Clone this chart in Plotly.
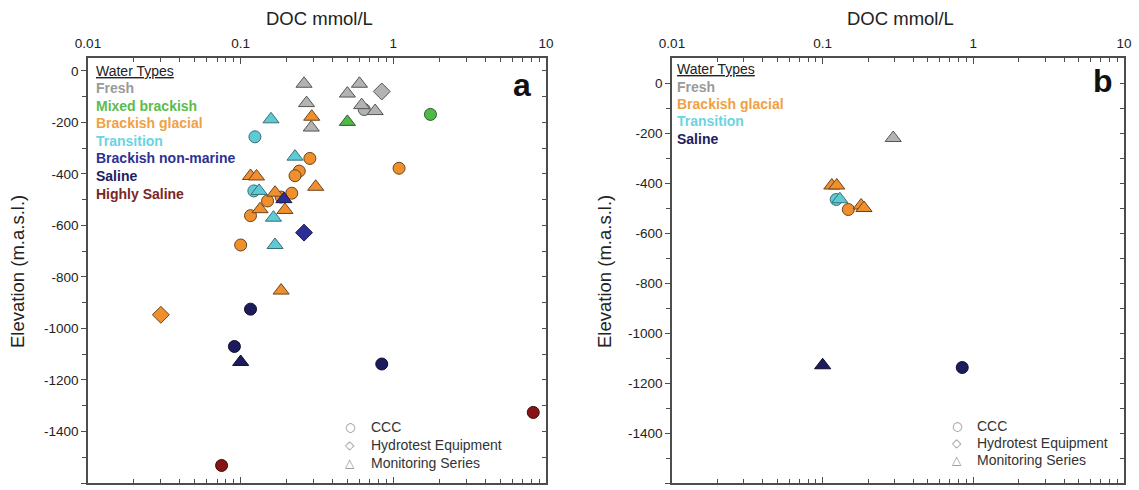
import plotly.graph_objects as go

# ---------------- data (DOC mmol/L, elevation m.a.s.l.) ----------------
# Panel a
a_fresh_ms_x = [0.26, 0.60, 0.50, 0.27, 0.62, 0.76, 0.29]
a_fresh_ms_y = [-50, -50, -88, -125, -133, -156, -220]
a_fresh_ccc_x = [0.645]
a_fresh_ccc_y = [-150]
a_fresh_hyd_x = [0.84]
a_fresh_hyd_y = [-80]

a_mixed_ms_x = [0.50]
a_mixed_ms_y = [-198]
a_mixed_ccc_x = [1.75]
a_mixed_ccc_y = [-169]

a_glacial_ccc_x = [0.284, 0.242, 0.227, 1.09, 0.216, 0.150, 0.116, 0.100, 0.184]
a_glacial_ccc_y = [-340, -389, -407, -378, -475, -505, -562, -676, -490]
a_glacial_ms_x = [0.292, 0.116, 0.127, 0.31, 0.168, 0.134, 0.195, 0.184]
a_glacial_ms_y = [-178, -408, -410, -450, -473, -537, -540, -853]
a_glacial_hyd_x = [0.030]
a_glacial_hyd_y = [-947]

a_trans_ccc_x = [0.124, 0.122]
a_trans_ccc_y = [-256, -466]
a_trans_ms_x = [0.158, 0.227, 0.132, 0.164, 0.168]
a_trans_ms_y = [-188, -333, -466, -570, -676]

a_nonmar_ms_x = [0.192]
a_nonmar_ms_y = [-498]
a_nonmar_hyd_x = [0.26]
a_nonmar_hyd_y = [-628]

a_saline_ccc_x = [0.116, 0.091, 0.84]
a_saline_ccc_y = [-925, -1070, -1138]
a_saline_ms_x = [0.100]
a_saline_ms_y = [-1130]

a_high_ccc_x = [0.075, 8.25]
a_high_ccc_y = [-1532, -1326]

# Panel b
b_fresh_ms_x = [0.294]
b_fresh_ms_y = [-220]
b_glacial_ms_x = [0.115, 0.124, 0.18, 0.188]
b_glacial_ms_y = [-410, -410, -490, -500]
b_glacial_ccc_x = [0.148]
b_glacial_ccc_y = [-506]
b_trans_ccc_x = [0.123]
b_trans_ccc_y = [-466]
b_trans_ms_x = [0.130]
b_trans_ms_y = [-465]
b_saline_ms_x = [0.100]
b_saline_ms_y = [-1129]
b_saline_ccc_x = [0.844]
b_saline_ccc_y = [-1138]

# axis ticks
x_tickvals = [0.01, 0.1, 1, 10]
x_ticktext = ["0.01", "0.1", "1", "10"]
y_tickvals = [0, -200, -400, -600, -800, -1000, -1200, -1400, -1600]
y_ticktext = ["0", "-200", "-400", "-600", "-800", "-1000", "-1200", "-1400", "-1600"]
y_minorvals = [-100, -300, -500, -700, -900, -1100, -1300, -1500]
y_allvals = list(range(0, -1601, -100))

water_types_a = ["Fresh", "Mixed brackish", "Brackish glacial", "Transition",
                 "Brackish non-marine", "Saline", "Highly Saline"]
water_types_b = ["Fresh", "Brackish glacial", "Transition", "Saline"]
source_types = ["CCC", "Hydrotest Equipment", "Monitoring Series"]
source_glyphs = ["○", "◇", "△"]

# ---------------- styles ----------------
FONT = "Liberation Sans, Arial, sans-serif"
fill = {
    "Fresh": "#b3b3b3",
    "Mixed brackish": "#4fb947",
    "Brackish glacial": "#f0902c",
    "Transition": "#5ccbd6",
    "Brackish non-marine": "#2b2f95",
    "Saline": "#1c1b5c",
    "Highly Saline": "#861414",
}
textcol = {
    "Fresh": "#9a9a9a",
    "Mixed brackish": "#5cbb4c",
    "Brackish glacial": "#f0a143",
    "Transition": "#6ad4e2",
    "Brackish non-marine": "#2e3192",
    "Saline": "#20205e",
    "Highly Saline": "#7a2626",
}
edge = {
    "Fresh": "#555555",
    "Mixed brackish": "#2f5a2a",
    "Brackish glacial": "#6a4420",
    "Transition": "#3a6e74",
    "Brackish non-marine": "#1a1a50",
    "Saline": "#0e0e30",
    "Highly Saline": "#3e0a0a",
}
sym = {"CCC": "circle", "Hydrotest Equipment": "diamond", "Monitoring Series": "triangle-up"}
size = {"CCC": 12, "Hydrotest Equipment": 13, "Monitoring Series": 14}

fig = go.Figure()


def add(x, y, wt, src, xa, ya):
    fig.add_trace(go.Scatter(
        x=x, y=y, mode="markers", xaxis=xa, yaxis=ya, showlegend=False,
        name=f"{wt} - {src}",
        marker=dict(symbol=sym[src], size=size[src], color=fill[wt],
                    line=dict(color=edge[wt], width=1)),
    ))


# panel a
add(a_fresh_ccc_x, a_fresh_ccc_y, "Fresh", "CCC", "x", "y")
add(a_fresh_ms_x, a_fresh_ms_y, "Fresh", "Monitoring Series", "x", "y")
add(a_fresh_hyd_x, a_fresh_hyd_y, "Fresh", "Hydrotest Equipment", "x", "y")
add(a_mixed_ccc_x, a_mixed_ccc_y, "Mixed brackish", "CCC", "x", "y")
add(a_mixed_ms_x, a_mixed_ms_y, "Mixed brackish", "Monitoring Series", "x", "y")
add(a_glacial_ccc_x, a_glacial_ccc_y, "Brackish glacial", "CCC", "x", "y")
add(a_glacial_ms_x, a_glacial_ms_y, "Brackish glacial", "Monitoring Series", "x", "y")
add(a_glacial_hyd_x, a_glacial_hyd_y, "Brackish glacial", "Hydrotest Equipment", "x", "y")
add(a_trans_ccc_x, a_trans_ccc_y, "Transition", "CCC", "x", "y")
add(a_trans_ms_x, a_trans_ms_y, "Transition", "Monitoring Series", "x", "y")
add(a_nonmar_ms_x, a_nonmar_ms_y, "Brackish non-marine", "Monitoring Series", "x", "y")
add(a_nonmar_hyd_x, a_nonmar_hyd_y, "Brackish non-marine", "Hydrotest Equipment", "x", "y")
add(a_saline_ccc_x, a_saline_ccc_y, "Saline", "CCC", "x", "y")
add(a_saline_ms_x, a_saline_ms_y, "Saline", "Monitoring Series", "x", "y")
add(a_high_ccc_x, a_high_ccc_y, "Highly Saline", "CCC", "x", "y")

# panel b
add(b_fresh_ms_x, b_fresh_ms_y, "Fresh", "Monitoring Series", "x2", "y2")
add(b_glacial_ccc_x, b_glacial_ccc_y, "Brackish glacial", "CCC", "x2", "y2")
add(b_glacial_ms_x, b_glacial_ms_y, "Brackish glacial", "Monitoring Series", "x2", "y2")
add(b_trans_ccc_x, b_trans_ccc_y, "Transition", "CCC", "x2", "y2")
add(b_trans_ms_x, b_trans_ms_y, "Transition", "Monitoring Series", "x2", "y2")
add(b_saline_ms_x, b_saline_ms_y, "Saline", "Monitoring Series", "x2", "y2")
add(b_saline_ccc_x, b_saline_ccc_y, "Saline", "CCC", "x2", "y2")

# hidden traces to carry the right-hand (inward-tick) axes
fig.add_trace(go.Scatter(x=[None], y=[None], xaxis="x", yaxis="y3", mode="markers",
                         showlegend=False, hoverinfo="skip"))
fig.add_trace(go.Scatter(x=[None], y=[None], xaxis="x2", yaxis="y4", mode="markers",
                         showlegend=False, hoverinfo="skip"))

LINE = "#4d4d4d"
W, H = 1139, 490
top_px, bot_px = 58, 483
ydom = [1 - bot_px / H, 1 - top_px / H]
xdom_a = [88 / W, 546 / W]
xdom_b = [672 / W, 1124 / W]
TICKFONT = dict(family=FONT, size=13.5, color="#222222")


def xaxis(dom, anchor):
    return dict(
        type="log", domain=dom, anchor=anchor, side="top", range=[-2, 1],
        tickmode="array", tickvals=x_tickvals, ticktext=x_ticktext,
        ticks="inside", ticklen=6, tickwidth=1, tickcolor=LINE,
        minor=dict(dtick="D1", ticks="inside", ticklen=4, tickwidth=1, tickcolor=LINE, showgrid=False),
        showline=True, linecolor=LINE, linewidth=1.5, mirror="ticks",
        showgrid=False, zeroline=False, ticklabelstandoff=3, automargin=False,
        tickfont=TICKFONT,
    )


def yaxis(dom, anchor, rng):
    return dict(
        domain=dom, anchor=anchor, range=rng,
        tickmode="array", tickvals=y_tickvals, ticktext=y_ticktext,
        ticks="outside", ticklen=5, tickwidth=1, tickcolor=LINE,
        minor=dict(tickvals=y_minorvals, ticks="outside", ticklen=4, tickwidth=1, tickcolor=LINE, showgrid=False),
        showline=True, linecolor=LINE, linewidth=1.5, mirror=True,
        showgrid=False, zeroline=False, automargin=False,
        tickfont=TICKFONT,
    )


def ryaxis(over, anchor, rng):
    return dict(
        overlaying=over, anchor=anchor, side="right", range=rng,
        tickmode="array", tickvals=y_allvals, showticklabels=False,
        ticks="inside", ticklen=4, tickwidth=1, tickcolor=LINE,
        showline=False, showgrid=False, zeroline=False, automargin=False,
    )


range_a = [-1600, 50]
range_b = [-1600, 100]

ann = []
# axis titles
for xc in [(88 + 546) / 2 + 2, (672 + 1124) / 2 + 2]:
    ann.append(dict(text="DOC mmol/L", x=xc / W, y=1 - 18 / H, xref="paper", yref="paper",
                    showarrow=False, xanchor="center", yanchor="middle",
                    font=dict(family=FONT, size=18.5, color="#222222")))
for xc in [17, 604]:
    ann.append(dict(text="Elevation (m.a.s.l.)", x=xc / W, y=1 - 272 / H, xref="paper", yref="paper",
                    showarrow=False, textangle=-90, xanchor="center", yanchor="middle",
                    font=dict(family=FONT, size=18.5, color="#222222")))
# panel letters
ann.append(dict(text="<b>a</b>", x=522 / W, y=1 - 85 / H, xref="paper", yref="paper",
                showarrow=False, xanchor="center", yanchor="middle",
                font=dict(family=FONT, size=32, color="#111111")))
ann.append(dict(text="<b>b</b>", x=1103 / W, y=1 - 81 / H, xref="paper", yref="paper",
                showarrow=False, xanchor="center", yanchor="middle",
                font=dict(family=FONT, size=32, color="#111111")))


def water_legend(x0, y_title, y_first, step, names):
    ann.append(dict(text="<u>Water Types</u>", x=x0 / W, y=1 - y_title / H, xref="paper", yref="paper",
                    showarrow=False, xanchor="left", yanchor="middle",
                    font=dict(family=FONT, size=14, color="#222222")))
    for i, n in enumerate(names):
        ann.append(dict(text=f"<b>{n}</b>", x=x0 / W, y=1 - (y_first + i * step) / H,
                        xref="paper", yref="paper", showarrow=False,
                        xanchor="left", yanchor="middle",
                        font=dict(family=FONT, size=14, color=textcol[n])))


water_legend(94, 71, 88, 17.6, water_types_a)
water_legend(675, 69, 86.7, 17.4, water_types_b)


def shape_legend(x_sym, x_txt, y_first, step):
    for i, (g, s) in enumerate(zip(source_glyphs, source_types)):
        yc = 1 - (y_first + i * step) / H
        ann.append(dict(text=g, x=x_sym / W, y=yc, xref="paper", yref="paper",
                        showarrow=False, xanchor="center", yanchor="middle",
                        font=dict(family="DejaVu Sans", size=12, color="#8c8c8c")))
        ann.append(dict(text=s, x=x_txt / W, y=yc, xref="paper", yref="paper",
                        showarrow=False, xanchor="left", yanchor="middle",
                        font=dict(family=FONT, size=14, color="#333333")))


shape_legend(350, 369, 426.7, 17.9)
shape_legend(957, 975, 425.7, 17.3)

fig.update_layout(
    width=W, height=H,
    margin=dict(l=0, r=0, t=0, b=0, autoexpand=False),
    paper_bgcolor="white", plot_bgcolor="white",
    xaxis=xaxis(xdom_a, "y"),
    yaxis=yaxis(ydom, "x", range_a),
    yaxis3=ryaxis("y", "x", range_a),
    xaxis2=xaxis(xdom_b, "y2"),
    yaxis2=yaxis(ydom, "x2", range_b),
    yaxis4=ryaxis("y2", "x2", range_b),
    annotations=ann,
    showlegend=False,
)

fig.write_html("out.html")
